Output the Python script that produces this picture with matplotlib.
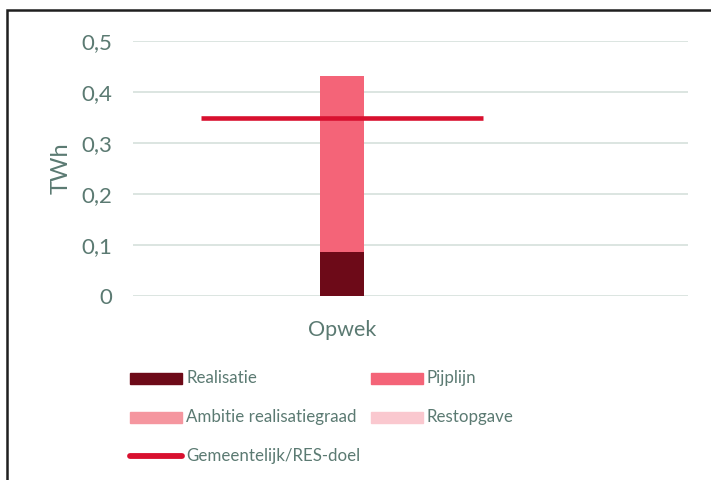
import matplotlib.pyplot as plt
from matplotlib.patches import Rectangle
from matplotlib.lines import Line2D

plt.rcParams['font.family'] = ['Lato', 'DejaVu Sans']

categories = ["Opwek"]
realisatie = [0.086]
pijplijn = [0.345]
ambitie = [0.0]
restopgave = [0.0]
doel = 0.35
yticks = [0, 0.1, 0.2, 0.3, 0.4, 0.5]
ytick_labels = ["0", "0,1", "0,2", "0,3", "0,4", "0,5"]

c_real = "#6d0a18"
c_pijp = "#f46478"
c_amb = "#f5969f"
c_rest = "#fac8cf"
c_doel = "#d8102f"
c_text = "#5b7a72"
c_grid = "#d5e0dc"

fig = plt.figure(figsize=(7.11, 4.80), dpi=100)
ax = fig.add_axes([133/711, 1 - 296/480, 555/711, 255/480])

x = [0]
w = 0.3
b1 = realisatie
b2 = [a + b for a, b in zip(b1, pijplijn)]
b3 = [a + b for a, b in zip(b2, ambitie)]
ax.bar(x, realisatie, w, color=c_real, zorder=3)
ax.bar(x, pijplijn, w, bottom=b1, color=c_pijp, zorder=3)
ax.bar(x, ambitie, w, bottom=b2, color=c_amb, zorder=3)
ax.bar(x, restopgave, w, bottom=b3, color=c_rest, zorder=3)
ax.plot([-0.961, 0.961], [doel, doel], color=c_doel, lw=3.3, zorder=4, solid_capstyle="butt")

ax.set_xlim(-1.425, 2.36)
ax.set_ylim(0, 0.5)
ax.set_yticks(yticks)
ax.set_yticklabels(ytick_labels)
ax.set_xticks(x)
ax.set_xticklabels(categories)
ax.tick_params(axis="y", length=0, labelsize=16, labelcolor=c_text, pad=15)
ax.tick_params(axis="x", length=0, labelsize=15.5, labelcolor=c_text, pad=17)
ax.grid(axis="y", color=c_grid, lw=1.2, zorder=0)
for s in ax.spines.values():
    s.set_visible(False)
ax.set_ylabel("TWh", fontsize=17, color=c_text, labelpad=7)

# legend drawn by hand
entries = [
    ("Realisatie", c_real, "patch", 130, 378),
    ("Pijplijn", c_pijp, "patch", 371, 378),
    ("Ambitie realisatiegraad", c_amb, "patch", 130, 417),
    ("Restopgave", c_rest, "patch", 371, 417),
    ("Gemeentelijk/RES-doel", c_doel, "line", 130, 456),
]
for label, col, kind, px, py in entries:
    if kind == "patch":
        fig.add_artist(Rectangle((px/711, 1 - (py + 5.5)/480), 52/711, 11/480,
                                 transform=fig.transFigure, color=col))
    else:
        fig.add_artist(Line2D([px/711, (px + 52)/711], [1 - py/480, 1 - py/480],
                              transform=fig.transFigure, color=col, lw=4.2,
                              solid_capstyle="round"))
    fig.text((px + 56)/711, 1 - py/480, label, fontsize=12.2, color=c_text,
             va="center", ha="left")

# outer frame
fig.add_artist(Rectangle((7/711, -0.05), 1.0, 1 - 10/480 + 0.05, transform=fig.transFigure,
                         fill=False, ec="#1f1f1f", lw=1.8))
fig.text(24/711, 1 + 6/480, "p", fontsize=14, color=c_doel, fontweight="bold",
         va="baseline")

fig.savefig("out.png", dpi=100)
